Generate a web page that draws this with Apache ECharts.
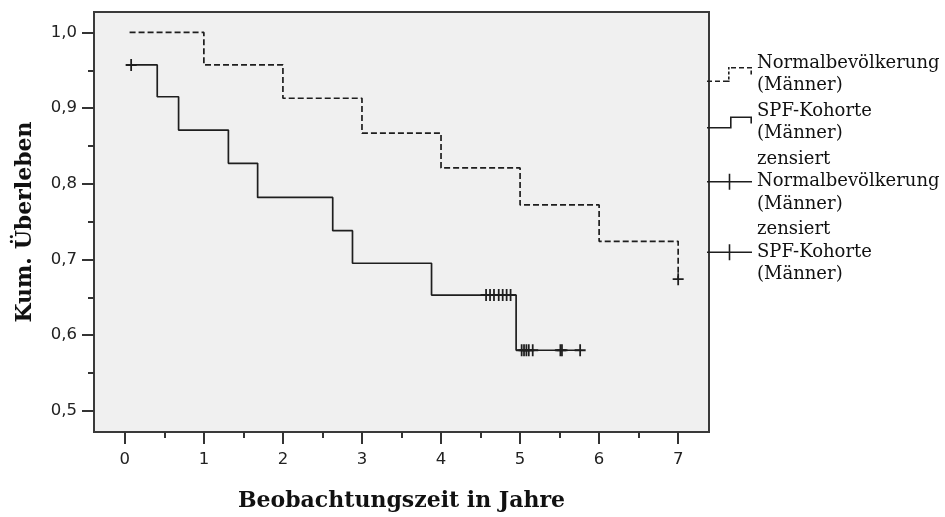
<!DOCTYPE html>
<html>
<head>
<meta charset="utf-8">
<script src="https://cdn.jsdelivr.net/npm/echarts@6/dist/echarts.min.js"></script>
<style>html,body{margin:0;padding:0;background:#fff}#c{width:945px;height:517px}</style>
</head>
<body>
<div id="c"></div>
<script>
// ---- data ----
const seriesNames = ['Normalbevölkerung\n(Männer)', 'SPF-Kohorte\n(Männer)', 'zensiert\nNormalbevölkerung\n(Männer)', 'zensiert\nSPF-Kohorte\n(Männer)'];
// Kaplan-Meier steps: [time, survival]
const normalTimes = [0.06, 1.0, 2.0, 3.0, 4.0, 5.0, 6.0, 7.0];
const normalSurv  = [1.0, 0.957, 0.913, 0.867, 0.821, 0.772, 0.724, 0.674];
const spfTimes = [0.08, 0.41, 0.68, 1.31, 1.68, 2.63, 2.88, 3.88, 4.95, 5.76];
const spfSurv  = [0.957, 0.915, 0.871, 0.827, 0.782, 0.738, 0.695, 0.653, 0.580, 0.580];
// censored observations
const normalCensTimes = [7.0];
const normalCensSurv  = [0.674];
const spfCensTimes = [0.08, 4.57, 4.62, 4.67, 4.73, 4.78, 4.83, 4.88, 5.02, 5.05, 5.08, 5.11, 5.16, 5.51, 5.53, 5.76];
const spfCensSurv  = [0.957, 0.653, 0.653, 0.653, 0.653, 0.653, 0.653, 0.653, 0.580, 0.580, 0.580, 0.580, 0.580, 0.580, 0.580, 0.580];
// axes
const xTicks = [0, 1, 2, 3, 4, 5, 6, 7];
const xMinorTicks = [0.5, 1.5, 2.5, 3.5, 4.5, 5.5, 6.5];
const yTicks = [0.5, 0.6, 0.7, 0.8, 0.9, 1.0];
const yMinorTicks = [0.55, 0.65, 0.75, 0.85, 0.95];
const xTitle = 'Beobachtungszeit in Jahre';
const yTitle = 'Kum. Überleben';

// ---- build ----
const zip = (a, b) => a.map((v, i) => [v, b[i]]);
const ink = '#1e1e1e';
const plusSym = 'path://M0,4.2H10V5.8H0Z M4.2,0H5.8V10H4.2Z';
const iconDashStep = 'path://M0,13.4H5V15H0Z M8,13.4H13V15H8Z M16,13.4H22.6V15H16Z M21,9.5H22.6V12.5H21Z M21,4.5H22.6V7.5H21Z M21,0H22.6V2.5H21Z M24,0H29V1.6H24Z M32,0H37V1.6H32Z M40,0H45V1.6H40Z M43.4,3.5H45V7.5H43.4Z';
const iconSolidStep = 'path://M0,10.4H24.6V12H0Z M23,0H24.6V12H23Z M23,0H45V1.6H23Z M43.4,0H45V7H43.4Z';
const iconCens = 'path://M0,7.2H45V8.8H0Z M21.7,0H23.3V16H21.7Z';
const fmt = v => v.toFixed(1).replace('.', ',');

const chart = echarts.init(document.getElementById('c'), null, {renderer: 'canvas'});
const axisFont = {fontFamily: 'DejaVu Sans', fontSize: 16.5, color: '#222'};
const titleFont = {fontFamily: 'DejaVu Serif', fontWeight: 'bold', fontSize: 22, color: '#111'};
const axisLineStyle = {color: '#3a3a3a', width: 2};
chart.setOption({
  animation: false,
  backgroundColor: '#ffffff',
  grid: {left: 94, top: 12, width: 615, height: 420, outerBoundsMode: 'none', containLabel: false,
         show: true, backgroundColor: '#f0f0f0', borderColor: '#3a3a3a', borderWidth: 2},
  legend: {
    orient: 'vertical', left: 707, top: 52, padding: 0, itemWidth: 45, itemHeight: 16, itemGap: 3,
    textStyle: {fontFamily: 'DejaVu Serif', fontSize: 18, lineHeight: 22.5, color: '#111'},
    data: [
      {name: seriesNames[0], icon: iconDashStep, itemStyle: {color: ink, opacity: 1}},
      {name: seriesNames[1], icon: iconSolidStep, itemStyle: {color: ink, opacity: 1}},
      {name: seriesNames[2], icon: iconCens, itemStyle: {color: ink, opacity: 1}},
      {name: seriesNames[3], icon: iconCens, itemStyle: {color: ink, opacity: 1}}
    ],
    selectedMode: false
  },
  xAxis: [{
    type: 'value', min: -0.39, max: 7.39,
    name: xTitle, nameLocation: 'middle', nameGap: 58, nameTextStyle: titleFont,
    axisLine: {show: true, onZero: false, lineStyle: axisLineStyle},
    axisTick: {show: true, customValues: xTicks, length: 12, lineStyle: {color: '#333', width: 2}},
    axisLabel: {customValues: xTicks, margin: 19, formatter: v => String(v), ...axisFont},
    splitLine: {show: false}
  }, {
    type: 'value', min: -0.39, max: 7.39, position: 'bottom',
    axisLine: {show: false, onZero: false},
    axisTick: {show: true, customValues: xMinorTicks, length: 6, lineStyle: {color: '#333', width: 2}},
    axisLabel: {show: false, customValues: xMinorTicks},
    splitLine: {show: false}
  }],
  yAxis: [{
    type: 'value', min: 0.472, max: 1.027,
    name: yTitle, nameLocation: 'middle', nameGap: 58, nameRotate: 90, nameTextStyle: titleFont,
    axisLine: {show: true, onZero: false, lineStyle: axisLineStyle},
    axisTick: {show: true, customValues: yTicks, length: 12, lineStyle: {color: '#333', width: 2}},
    axisLabel: {customValues: yTicks, margin: 17, formatter: fmt, ...axisFont},
    splitLine: {show: false}
  }, {
    type: 'value', min: 0.472, max: 1.027, position: 'left',
    axisLine: {show: false, onZero: false},
    axisTick: {show: true, customValues: yMinorTicks, length: 6, lineStyle: {color: '#333', width: 2}},
    axisLabel: {show: false, customValues: yMinorTicks},
    splitLine: {show: false}
  }],
  series: [
    {name: seriesNames[0], type: 'line', step: 'end', data: zip(normalTimes, normalSurv), symbol: 'none',
     lineStyle: {color: ink, width: 1.7, type: [6, 3]}, itemStyle: {color: ink}, z: 3},
    {name: seriesNames[1], type: 'line', step: 'end', data: zip(spfTimes, spfSurv), symbol: 'none',
     lineStyle: {color: ink, width: 1.7}, itemStyle: {color: ink}, z: 3},
    {name: seriesNames[2], type: 'scatter', data: zip(normalCensTimes, normalCensSurv), symbol: plusSym,
     symbolSize: [11, 12], itemStyle: {color: ink, opacity: 1}, z: 4},
    {name: seriesNames[3], type: 'scatter', data: zip(spfCensTimes, spfCensSurv), symbol: plusSym,
     symbolSize: [11, 12], itemStyle: {color: ink, opacity: 1}, z: 4}
  ]
});
</script>
</body>
</html>
